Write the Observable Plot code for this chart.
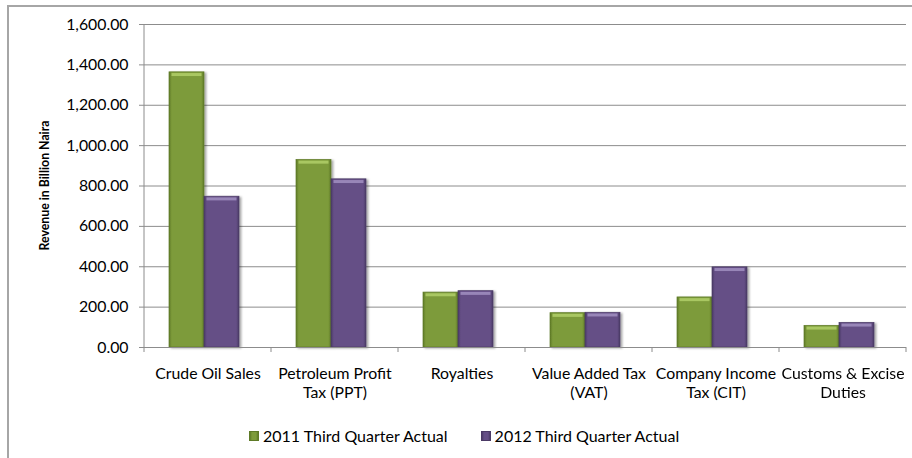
<!DOCTYPE html>
<html>
<head>
<meta charset="utf-8">
<script src="https://cdn.jsdelivr.net/npm/d3@7"></script>
<script src="https://cdn.jsdelivr.net/npm/@observablehq/plot@0.6"></script>
<style>
  html, body { margin: 0; padding: 0; background: #fff; }
  #wrap { position: relative; width: 912px; height: 458px; overflow: hidden; font-family: Lato, "Open Sans", sans-serif; }
  #border { position: absolute; left: 7px; top: 5px; width: 920px; height: 470px; border-left: 2px solid #a6a6a6; border-top: 2px solid #a6a6a6; box-sizing: border-box; }
  #chart { position: absolute; left: 0; top: 0; }
  #legend { position: absolute; left: 249px; top: 426px; font-size: 16px; color: #000; display: flex; align-items: center; white-space: nowrap; }
  .item { display: flex; align-items: center; margin-right: 33px; }
  .sw { width: 10px; height: 10px; margin-right: 4px; box-sizing: border-box; }
</style>
</head>
<body>
<div id="wrap">
  <div id="border"></div>
  <div id="chart"></div>
  <div id="legend"></div>
</div>
<script>
const categories = ["Crude Oil Sales", "Petroleum Profit Tax (PPT)", "Royalties", "Value Added Tax (VAT)", "Company Income Tax (CIT)", "Customs & Excise Duties"];
const tickLabels = ["Crude Oil Sales", "Petroleum Profit\nTax (PPT)", "Royalties", "Value Added Tax\n(VAT)", "Company Income\nTax (CIT)", "Customs & Excise\nDuties"];
const series = ["2011 Third Quarter Actual", "2012 Third Quarter Actual"];
const values2011 = [1363, 929, 272, 170, 248, 107];
const values2012 = [747, 833, 279, 172, 397, 122];
const yTicks = [0, 200, 400, 600, 800, 1000, 1200, 1400, 1600];
const yTitle = "Revenue in Billion Naira";

const baseColors = ["#7d9b3b", "#654f86"];
const edgeColors = ["#5e7a27", "#4b3a66"];
const lightColors = ["#a9c762", "#9886b8"];

const data = categories.flatMap((c, i) => [
  {category: c, series: series[0], value: values2011[i]},
  {category: c, series: series[1], value: values2012[i]}
]);

const chart = Plot.plot({
  width: 912,
  height: 410,
  marginLeft: 144,
  marginRight: 6,
  marginTop: 24,
  marginBottom: 63,
  style: {fontFamily: "Lato, 'Open Sans', sans-serif", fontSize: "16px", color: "#000", background: "transparent"},
  fx: {domain: categories, padding: 0, label: null},
  x: {domain: series, paddingInner: 0, paddingOuter: 0.79, align: 0.44, axis: null},
  y: {domain: [0, 1600], label: null},
  color: {type: "ordinal", domain: series, range: ["url(#gGreen)", "url(#gPurple)"]},
  marks: [
    Plot.gridY(yTicks, {stroke: "#8c8c8c", strokeOpacity: 1, strokeWidth: 1}),
    Plot.axisY(yTicks, {tickFormat: d3.format(",.2f"), tickSize: 5, tickPadding: 11, stroke: "#8c8c8c", fontSize: 15.8, label: null}),
    Plot.barY(data, {fx: "category", x: "series", y: "value", fill: "series", stroke: d => d.series === series[0] ? edgeColors[0] : edgeColors[1], strokeWidth: 0.7}),
    Plot.tickY(data, {fx: "category", x: "series", y: "value", stroke: d => d.series === series[0] ? lightColors[0] : lightColors[1], strokeWidth: 3, dy: 2.2, insetLeft: 2.5, insetRight: 2.5}),
    Plot.ruleY([0], {stroke: "#8c8c8c"}),
    Plot.axisFx({anchor: "bottom", tickSize: 0, tickPadding: 18, fontSize: 15.8, lineHeight: 1.2, label: null,
      tickFormat: d => tickLabels[categories.indexOf(d)]})
  ]
});

const svg = d3.select(chart);
const defs = svg.insert("defs", ":first-child");
function grad(id, base, edge) {
  const g = defs.append("linearGradient").attr("id", id).attr("x1", "0").attr("x2", "1").attr("y1", "0").attr("y2", "0");
  g.append("stop").attr("offset", "0").attr("stop-color", edge);
  g.append("stop").attr("offset", "0.08").attr("stop-color", base);
  g.append("stop").attr("offset", "0.92").attr("stop-color", base);
  g.append("stop").attr("offset", "1").attr("stop-color", edge);
}
grad("gGreen", baseColors[0], edgeColors[0]);
grad("gPurple", baseColors[1], edgeColors[1]);
const f = defs.append("filter").attr("id", "shadow").attr("x", "-20%").attr("y", "-20%").attr("width", "150%").attr("height", "150%");
f.append("feDropShadow").attr("dx", 2).attr("dy", 1).attr("stdDeviation", 1.3).attr("flood-color", "#000").attr("flood-opacity", 0.35);
svg.selectAll("g[aria-label='bar']").attr("filter", "url(#shadow)");

function getScale(name) {
  const s = chart.scale(name);
  if (s && typeof s.apply === "function") return s;
  return Plot.scale({[name]: s});
}
const fxDesc = chart.scale("fx");
const yS = getScale("y");
const x0 = fxDesc.range[0];
const x1 = fxDesc.range[1];
const step = (x1 - x0) / categories.length;
const yBase = yS.apply(0);
const yTop = yS.apply(yTicks[yTicks.length - 1]);
const extra = svg.append("g").attr("stroke", "#8c8c8c").attr("stroke-width", 1);
extra.append("line").attr("x1", x0).attr("x2", x0).attr("y1", yTop).attr("y2", yBase);
for (let i = 0; i <= categories.length; i++) {
  const xx = x0 + i * step;
  extra.append("line").attr("x1", xx).attr("x2", xx).attr("y1", yBase).attr("y2", yBase + 5);
}

svg.append("text")
  .attr("transform", `translate(44,${(yTop + yBase) / 2}) rotate(-90)`)
  .attr("text-anchor", "middle")
  .attr("dominant-baseline", "central")
  .attr("font-weight", "bold")
  .attr("font-size", 12.3)
  .attr("fill", "#000")
  .text(yTitle);

document.getElementById("chart").appendChild(chart);

const legend = d3.select("#legend");
series.forEach((s, i) => {
  const it = legend.append("div").attr("class", "item");
  it.append("div").attr("class", "sw")
    .style("background", `linear-gradient(to right, ${edgeColors[i]}, ${baseColors[i]} 25%, ${baseColors[i]} 75%, ${edgeColors[i]})`)
    .style("border", `1px solid ${edgeColors[i]}`);
  it.append("span").text(s);
});
</script>
</body>
</html>
